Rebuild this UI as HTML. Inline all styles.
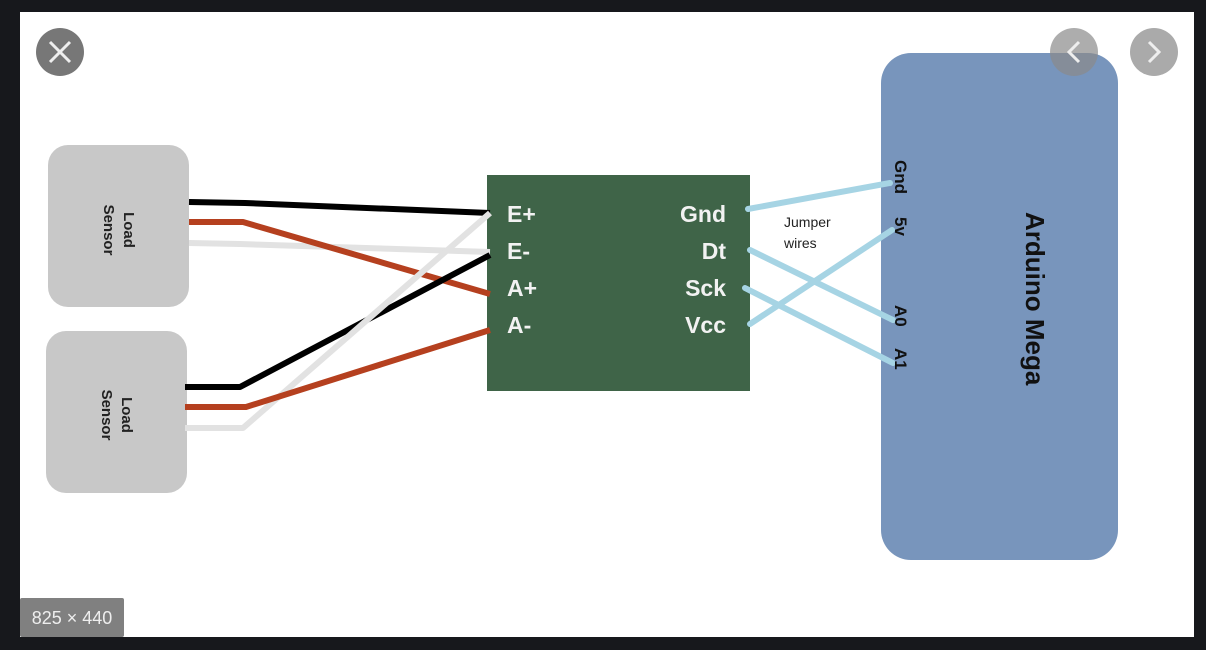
<!DOCTYPE html>
<html><head><meta charset="utf-8"><style>
html,body{margin:0;padding:0;background:#17181c;width:1206px;height:650px;overflow:hidden}
svg{display:block}
</style></head><body>
<svg width="1206" height="650" xmlns="http://www.w3.org/2000/svg" font-family="Liberation Sans, sans-serif">
<rect x="0" y="0" width="1206" height="650" fill="#17181c"/>
<rect x="20" y="12" width="1174" height="625" fill="#ffffff"/>
<rect x="48" y="145" width="141" height="162" rx="20" fill="#c8c8c8"/>
<rect x="46" y="331" width="141" height="162" rx="20" fill="#c8c8c8"/>
<text transform="translate(124,230) rotate(90)" text-anchor="middle" font-size="15" font-weight="bold" fill="#222">Load</text>
<text transform="translate(104,230) rotate(90)" text-anchor="middle" font-size="15" font-weight="bold" fill="#222">Sensor</text>
<text transform="translate(122,415) rotate(90)" text-anchor="middle" font-size="15" font-weight="bold" fill="#222">Load</text>
<text transform="translate(102,415) rotate(90)" text-anchor="middle" font-size="15" font-weight="bold" fill="#222">Sensor</text>
<rect x="487" y="175" width="263" height="216" fill="#3f6448"/>
<g fill="none" stroke-width="6" stroke-linejoin="round">
<polyline points="189,243 240,244 490,252" stroke="#e2e2e2"/>
<polyline points="189,202 245,203 490,213" stroke="#000"/>
<polyline points="189,222 243,222 490,294" stroke="#b5401f"/>
<polyline points="185,387 240,387 490,255" stroke="#000"/>
<polyline points="185,428 243,428 490,213" stroke="#e2e2e2"/>
<polyline points="185,407 246,407 490,330" stroke="#b5401f"/>
</g>
<g font-size="23" font-weight="bold" fill="#f2f2f2">
<text x="507" y="222">E+</text><text x="507" y="259">E-</text>
<text x="507" y="296">A+</text><text x="507" y="333">A-</text>
<text x="726" y="222" text-anchor="end">Gnd</text><text x="726" y="259" text-anchor="end">Dt</text>
<text x="726" y="296" text-anchor="end">Sck</text><text x="726" y="333" text-anchor="end">Vcc</text>
</g>
<rect x="881" y="53" width="237" height="507" rx="30" fill="#7895bc"/>
<g fill="none" stroke="#a6d4e4" stroke-width="6" stroke-linecap="round">
<line x1="748" y1="209" x2="890" y2="183"/>
<line x1="750" y1="250" x2="893" y2="320"/>
<line x1="745" y1="288" x2="893" y2="363"/>
<line x1="750" y1="324" x2="892" y2="230"/>
</g>
<text x="784" y="227" font-size="14" fill="#222">Jumper</text>
<text x="784" y="248" font-size="14" fill="#222">wires</text>
<g font-size="17" font-weight="bold" fill="#111">
<text transform="translate(895,160) rotate(90)">Gnd</text>
<text transform="translate(895,217) rotate(90)">5v</text>
<text transform="translate(895,305) rotate(90)">A0</text>
<text transform="translate(895,348) rotate(90)">A1</text>
</g>
<text transform="translate(1026,212) rotate(90)" font-size="26" font-weight="bold" fill="#111">Arduino Mega</text>
<circle cx="60" cy="52" r="24" fill="#777"/>
<path d="M50 42 L70 62 M70 42 L50 62" stroke="#eee" stroke-width="3"/>
<circle cx="1074" cy="52" r="24" fill="#8a8a8a" fill-opacity="0.7"/>
<path d="M1079 42 L1069 52 L1079 62" stroke="#eee" stroke-width="3" fill="none"/>
<circle cx="1154" cy="52" r="24" fill="#aaa"/>
<path d="M1149 42 L1159 52 L1149 62" stroke="#eee" stroke-width="3" fill="none"/>
<rect x="20" y="598" width="104" height="39" rx="2" fill="#808080"/>
<text x="72" y="624" text-anchor="middle" font-size="18" fill="#eee">825 × 440</text>
</svg>
</body></html>
